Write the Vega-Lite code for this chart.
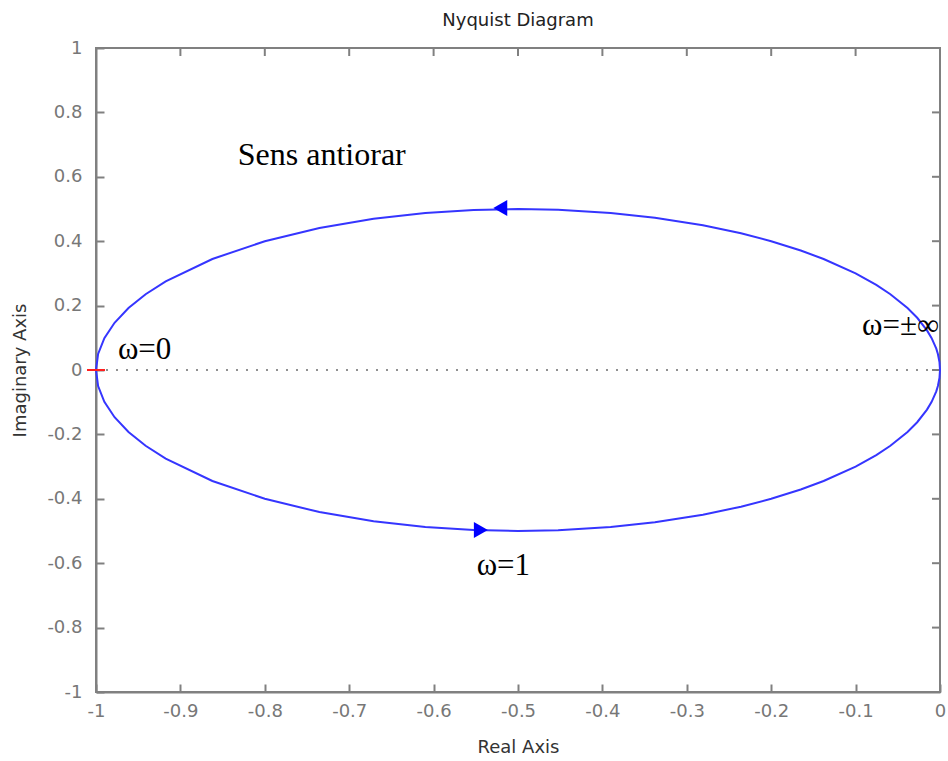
{
  "$schema": "https://vega.github.io/schema/vega-lite/v6.json",
  "width": 844,
  "height": 644,
  "autosize": {"type": "none"},
  "padding": {"left": 96, "top": 48, "right": 8, "bottom": 69},
  "background": "white",
  "title": {"text": "Nyquist Diagram", "fontSize": 18, "font": "DejaVu Sans", "fontWeight": "normal", "color": "#222222", "offset": 9, "anchor": "middle"},
  "config": {
    "view": {"stroke": "#808080", "strokeWidth": 2},
    "axis": {"domainColor": "#808080", "domainWidth": 2, "tickColor": "#808080", "tickWidth": 2, "tickSize": -8, "labelColor": "#777777", "labelFont": "DejaVu Sans", "labelFontSize": 18, "titleFont": "DejaVu Sans", "titleFontSize": 18, "titleFontWeight": "normal", "titleColor": "#333333", "grid": false}
  },
  "datasets": {
    "curve": [
      {"re": 0, "im": 0, "ord": 1},
      {"re": -0.000625, "im": 0.025, "ord": 2},
      {"re": -0.0025, "im": 0.0499, "ord": 3},
      {"re": -0.0044, "im": 0.0664, "ord": 4},
      {"re": -0.0099, "im": 0.099, "ord": 5},
      {"re": -0.0154, "im": 0.1231, "ord": 6},
      {"re": -0.027, "im": 0.1622, "ord": 7},
      {"re": -0.0385, "im": 0.1923, "ord": 8},
      {"re": -0.0588, "im": 0.2353, "ord": 9},
      {"re": -0.0755, "im": 0.2642, "ord": 10},
      {"re": -0.1, "im": 0.3, "ord": 11},
      {"re": -0.1379, "im": 0.3448, "ord": 12},
      {"re": -0.165, "im": 0.371, "ord": 13},
      {"re": -0.2, "im": 0.4, "ord": 14},
      {"re": -0.2358, "im": 0.4245, "ord": 15},
      {"re": -0.2809, "im": 0.4494, "ord": 16},
      {"re": -0.3378, "im": 0.473, "ord": 17},
      {"re": -0.3902, "im": 0.4878, "ord": 18},
      {"re": -0.4525, "im": 0.4977, "ord": 19},
      {"re": -0.5, "im": 0.5, "ord": 20},
      {"re": -0.5525, "im": 0.4972, "ord": 21},
      {"re": -0.6098, "im": 0.4878, "ord": 22},
      {"re": -0.6711, "im": 0.4698, "ord": 23},
      {"re": -0.7353, "im": 0.4412, "ord": 24},
      {"re": -0.8, "im": 0.4, "ord": 25},
      {"re": -0.8621, "im": 0.3448, "ord": 26},
      {"re": -0.9174, "im": 0.2752, "ord": 27},
      {"re": -0.9412, "im": 0.2353, "ord": 28},
      {"re": -0.9615, "im": 0.1923, "ord": 29},
      {"re": -0.978, "im": 0.1467, "ord": 30},
      {"re": -0.9901, "im": 0.099, "ord": 31},
      {"re": -0.9975, "im": 0.0499, "ord": 32},
      {"re": -1, "im": 0, "ord": 33},
      {"re": -0.9975, "im": -0.0499, "ord": 34},
      {"re": -0.9901, "im": -0.099, "ord": 35},
      {"re": -0.978, "im": -0.1467, "ord": 36},
      {"re": -0.9615, "im": -0.1923, "ord": 37},
      {"re": -0.9412, "im": -0.2353, "ord": 38},
      {"re": -0.9174, "im": -0.2752, "ord": 39},
      {"re": -0.8621, "im": -0.3448, "ord": 40},
      {"re": -0.8, "im": -0.4, "ord": 41},
      {"re": -0.7353, "im": -0.4412, "ord": 42},
      {"re": -0.6711, "im": -0.4698, "ord": 43},
      {"re": -0.6098, "im": -0.4878, "ord": 44},
      {"re": -0.5525, "im": -0.4972, "ord": 45},
      {"re": -0.5, "im": -0.5, "ord": 46},
      {"re": -0.4525, "im": -0.4977, "ord": 47},
      {"re": -0.3902, "im": -0.4878, "ord": 48},
      {"re": -0.3378, "im": -0.473, "ord": 49},
      {"re": -0.2809, "im": -0.4494, "ord": 50},
      {"re": -0.2358, "im": -0.4245, "ord": 51},
      {"re": -0.2, "im": -0.4, "ord": 52},
      {"re": -0.165, "im": -0.371, "ord": 53},
      {"re": -0.1379, "im": -0.3448, "ord": 54},
      {"re": -0.1, "im": -0.3, "ord": 55},
      {"re": -0.0755, "im": -0.2642, "ord": 56},
      {"re": -0.0588, "im": -0.2353, "ord": 57},
      {"re": -0.0385, "im": -0.1923, "ord": 58},
      {"re": -0.027, "im": -0.1622, "ord": 59},
      {"re": -0.0154, "im": -0.1231, "ord": 60},
      {"re": -0.0099, "im": -0.099, "ord": 61},
      {"re": -0.0044, "im": -0.0664, "ord": 62},
      {"re": -0.0025, "im": -0.0499, "ord": 63},
      {"re": -0.000625, "im": -0.025, "ord": 64},
      {"re": 0, "im": 0, "ord": 65}
    ],
    "zero": [{"re": -1, "im": 0}, {"re": 0, "im": 0}],
    "topticks": [{"re": -0.9, "im": 1}, {"re": -0.8, "im": 1}, {"re": -0.7, "im": 1}, {"re": -0.6, "im": 1}, {"re": -0.5, "im": 1}, {"re": -0.4, "im": 1}, {"re": -0.3, "im": 1}, {"re": -0.2, "im": 1}, {"re": -0.1, "im": 1}],
    "rightticks": [{"re": 0, "im": -0.8}, {"re": 0, "im": -0.6}, {"re": 0, "im": -0.4}, {"re": 0, "im": -0.2}, {"re": 0, "im": 0}, {"re": 0, "im": 0.2}, {"re": 0, "im": 0.4}, {"re": 0, "im": 0.6}, {"re": 0, "im": 0.8}],
    "arrows": [
      {"re": -0.521, "im": 0.503, "shape": "triangle-left"},
      {"re": -0.544, "im": -0.497, "shape": "triangle-right"}
    ],
    "crit": [{"re": -1, "im": 0}],
    "labels": [
      {"re": -0.832, "im": 0.668, "txt": "Sens antiorar", "fs": 32},
      {"re": -0.974, "im": 0.062, "txt": "ω=0", "fs": 31},
      {"re": -0.549, "im": -0.609, "txt": "ω=1", "fs": 31},
      {"re": -0.0924, "im": 0.137, "txt": "ω=±∞", "fs": 31}
    ]
  },
  "resolve": {"axis": {"x": "independent", "y": "independent"}},
  "layer": [
    {
      "data": {"name": "zero"},
      "mark": {"type": "line", "color": "#909090", "strokeWidth": 2, "strokeDash": [2, 8]},
      "encoding": {
        "x": {"field": "re", "type": "quantitative", "scale": {"domain": [-1, 0], "nice": false, "zero": false},
          "axis": {"orient": "bottom", "title": "Real Axis", "values": [-1, -0.9, -0.8, -0.7, -0.6, -0.5, -0.4, -0.3, -0.2, -0.1, 0], "labelExpr": "(datum.value < 0 ? '-' : '') + format(abs(datum.value), '.1~f')", "labelPadding": 18, "titleY": 55, "titleBaseline": "middle", "labelFlush": false}},
        "y": {"field": "im", "type": "quantitative", "scale": {"domain": [-1, 1], "nice": false, "zero": false},
          "axis": {"orient": "left", "title": "Imaginary Axis", "values": [-1, -0.8, -0.6, -0.4, -0.2, 0, 0.2, 0.4, 0.6, 0.8, 1], "labelExpr": "(datum.value < 0 ? '-' : '') + format(abs(datum.value), '.1~f')", "labelPadding": 22, "titleX": -76, "titleY": 322, "titleBaseline": "middle", "titleAlign": "center", "labelFlush": false}}
      }
    },
    {
      "data": {"name": "topticks"},
      "mark": {"type": "tick", "orient": "vertical", "color": "#808080", "size": 8, "thickness": 2, "yOffset": 4, "opacity": 1},
      "encoding": {
        "x": {"field": "re", "type": "quantitative", "axis": null},
        "y": {"field": "im", "type": "quantitative", "axis": null}
      }
    },
    {
      "data": {"name": "rightticks"},
      "mark": {"type": "tick", "orient": "horizontal", "color": "#808080", "size": 8, "thickness": 2, "xOffset": -4, "opacity": 1},
      "encoding": {
        "x": {"field": "re", "type": "quantitative", "axis": null},
        "y": {"field": "im", "type": "quantitative", "axis": null}
      }
    },
    {
      "data": {"name": "curve"},
      "mark": {"type": "line", "color": "#3535ff", "strokeWidth": 2},
      "encoding": {
        "x": {"field": "re", "type": "quantitative", "axis": null},
        "y": {"field": "im", "type": "quantitative", "axis": null},
        "order": {"field": "ord", "type": "quantitative"}
      }
    },
    {
      "data": {"name": "arrows"},
      "mark": {"type": "point", "filled": true, "color": "#0000ff", "size": 260, "opacity": 1},
      "encoding": {
        "x": {"field": "re", "type": "quantitative", "axis": null},
        "y": {"field": "im", "type": "quantitative", "axis": null},
        "shape": {"field": "shape", "type": "nominal", "scale": {"domain": ["triangle-left", "triangle-right"], "range": ["triangle-left", "triangle-right"]}, "legend": null}
      }
    },
    {
      "data": {"name": "crit"},
      "mark": {"type": "point", "shape": "M-1,0L1,0", "filled": false, "stroke": "#ff2020", "strokeWidth": 2, "size": 324, "opacity": 1},
      "encoding": {
        "x": {"field": "re", "type": "quantitative", "axis": null},
        "y": {"field": "im", "type": "quantitative", "axis": null}
      }
    },
    {
      "data": {"name": "labels"},
      "mark": {"type": "text", "font": "Liberation Serif", "color": "black", "align": "left", "baseline": "middle"},
      "encoding": {
        "x": {"field": "re", "type": "quantitative", "axis": null},
        "y": {"field": "im", "type": "quantitative", "axis": null},
        "text": {"field": "txt"},
        "size": {"field": "fs", "type": "quantitative", "scale": null}
      }
    }
  ]
}
